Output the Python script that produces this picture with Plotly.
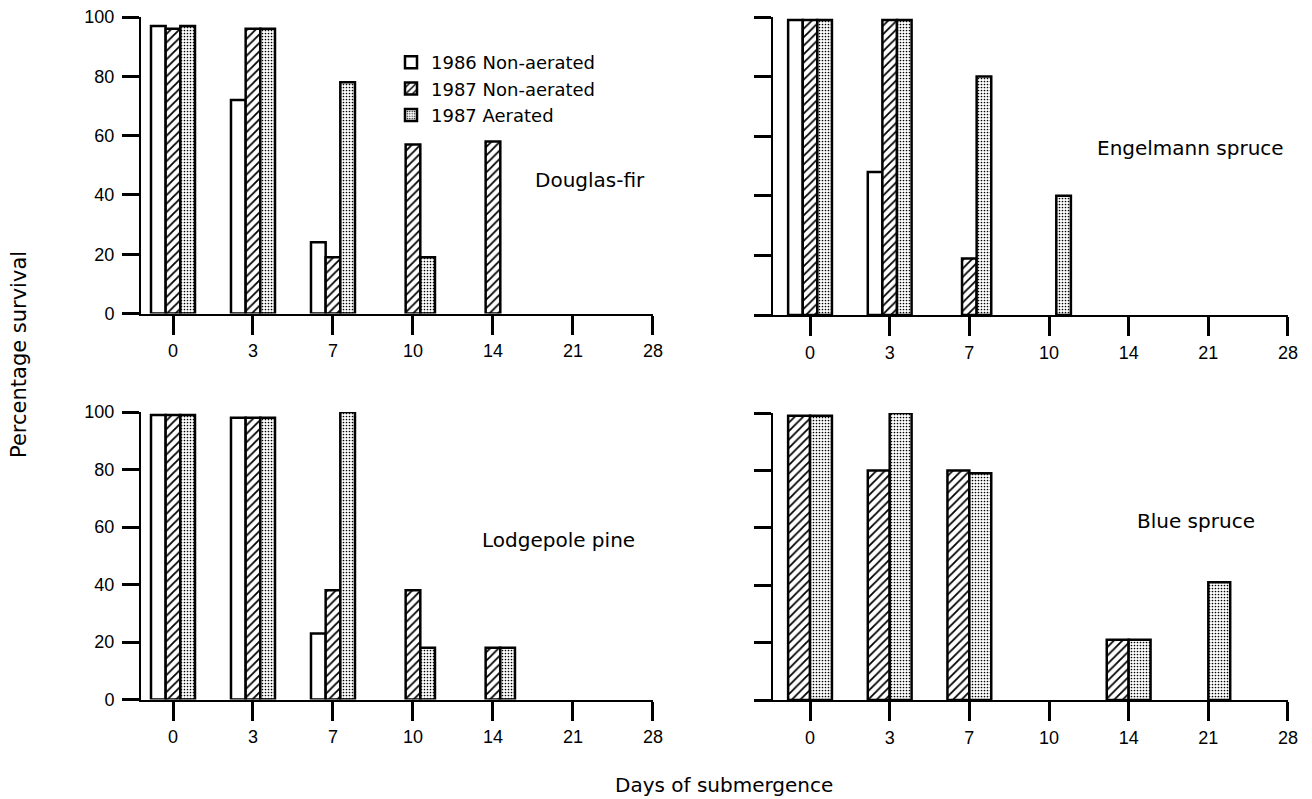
import plotly.graph_objects as go

# ---------------- data ----------------
days = ["0", "3", "7", "10", "14", "21", "28"]
series_names = ["1986 Non-aerated", "1987 Non-aerated", "1987 Aerated"]

douglas_1986 = [97, 72, 24, None, None, None, None]
douglas_1987_na = [96, 96, 19, 57, 58, None, None]
douglas_1987_a = [97, 96, 78, 19, None, None, None]

engelmann_1986 = [99, 48, None, None, None, None, None]
engelmann_1987_na = [99, 99, 19, None, None, None, None]
engelmann_1987_a = [99, 99, 80, 40, None, None, None]

lodgepole_1986 = [99, 98, 23, None, None, None, None]
lodgepole_1987_na = [99, 98, 38, 38, 18, None, None]
lodgepole_1987_a = [99, 98, 100, 18, 18, None, None]

blue_1987_na = [99, 80, 80, None, 21, None, None]
blue_1987_a = [99, 100, 79, None, 21, 41, None]

y_ticks = [0, 20, 40, 60, 80, 100]

# ---------------- geometry helpers ----------------
# The page body has a default 8px margin, so the figure is drawn at (8, 8)
# in the 1312x799 window.  Positions below are given in window pixels.
WIN_W, WIN_H = 1312, 799
OFF = 8
W, H = WIN_W - OFF, WIN_H - OFF


def px_x(x):
    return (x - OFF) / W


def px_y(y):
    return (WIN_H - y) / H


TICK_FONT = dict(family="Liberation Sans, Arial, sans-serif", size=18, color="black")
TEXT_FONT = "DejaVu Sans, sans-serif"

patterns = {
    "1986 Non-aerated": dict(shape=""),
    "1987 Non-aerated": dict(shape="/", fgcolor="black", bgcolor="white", size=6, solidity=0.3),
    "1987 Aerated": dict(shape=".", fgcolor="black", bgcolor="white", size=3, solidity=0.25),
}

panels = [
    dict(name="Douglas-fir", series={"1986 Non-aerated": douglas_1986,
                                     "1987 Non-aerated": douglas_1987_na,
                                     "1987 Aerated": douglas_1987_a},
         xpx=(141, 653), ypx=(17, 313.5), xr=-0.4, label_xy=(590, 180), legend=True),
    dict(name="Engelmann spruce", series={"1986 Non-aerated": engelmann_1986,
                                          "1987 Non-aerated": engelmann_1987_na,
                                          "1987 Aerated": engelmann_1987_a},
         xpx=(773, 1288), ypx=(17, 315), xr=-0.465, label_xy=(1190, 148), legend=False),
    dict(name="Lodgepole pine", series={"1986 Non-aerated": lodgepole_1986,
                                        "1987 Non-aerated": lodgepole_1987_na,
                                        "1987 Aerated": lodgepole_1987_a},
         xpx=(141, 653), ypx=(412, 699.5), xr=-0.4, label_xy=(558, 540), legend=False),
    dict(name="Blue spruce", series={"1987 Non-aerated": blue_1987_na,
                                     "1987 Aerated": blue_1987_a},
         xpx=(773, 1288), ypx=(413, 700), xr=-0.465, label_xy=(1196, 521), legend=False),
]

fig = go.Figure()
annotations = []
layout_axes = {}

for i, p in enumerate(panels, start=1):
    xa = "x" if i == 1 else f"x{i}"
    ya = "y" if i == 1 else f"y{i}"
    for sname, vals in p["series"].items():
        fig.add_trace(go.Bar(
            x=days, y=vals, name=sname, xaxis=xa, yaxis=ya,
            legendgroup=sname, showlegend=p["legend"],
            marker=dict(color="white", pattern=patterns[sname],
                        line=dict(color="black", width=2.5)),
        ))
    x0, x1 = p["xpx"]
    ytop, ybot = p["ypx"]
    layout_axes["xaxis" if i == 1 else f"xaxis{i}"] = dict(
        domain=[px_x(x0), px_x(x1)], anchor=ya, type="category",
        categoryorder="array", categoryarray=days,
        range=[p["xr"], 6.0005], showline=True, linecolor="black", linewidth=2,
        ticks="outside", ticklen=19, tickwidth=2.5, tickcolor="black",
        tickfont=TICK_FONT, ticklabelstandoff=1, showgrid=False, zeroline=False,
        ticklabeloverflow="allow", fixedrange=True,
    )
    layout_axes["yaxis" if i == 1 else f"yaxis{i}"] = dict(
        domain=[px_y(ybot), px_y(ytop)], anchor=xa,
        range=[0, 100], tickvals=y_ticks,
        ticktext=[str(v) for v in y_ticks] if i in (1, 3) else [""] * len(y_ticks),
        showline=True, linecolor="black", linewidth=2,
        ticks="outside", ticklen=17, tickwidth=2.5, tickcolor="black",
        tickfont=TICK_FONT, ticklabelstandoff=4, showgrid=False, zeroline=False,
        ticklabeloverflow="allow", fixedrange=True,
    )
    lx, ly = p["label_xy"]
    annotations.append(dict(text=p["name"], x=px_x(lx), y=px_y(ly), xref="paper", yref="paper",
                            xanchor="center", yanchor="middle", showarrow=False,
                            font=dict(family=TEXT_FONT, size=20, color="black")))

annotations.append(dict(text="Percentage survival", x=px_x(19), y=px_y(355), xref="paper", yref="paper",
                        xanchor="center", yanchor="middle", textangle=-90, showarrow=False,
                        font=dict(family=TEXT_FONT, size=21, color="black")))
annotations.append(dict(text="Days of submergence", x=px_x(724), y=0, xref="paper", yref="paper",
                        xanchor="center", yanchor="bottom", showarrow=False,
                        font=dict(family=TEXT_FONT, size=20, color="black")))

fig.update_layout(
    template="none",
    width=W, height=H,
    margin=dict(l=0, r=0, t=0, b=0),
    paper_bgcolor="white", plot_bgcolor="white",
    barmode="group", bargap=0.45, bargroupgap=0,
    annotations=annotations,
    legend=dict(x=px_x(391), y=px_y(44), xanchor="left", yanchor="top",
                bgcolor="rgba(0,0,0,0)", borderwidth=0, tracegroupgap=0,
                font=dict(family=TEXT_FONT, size=18, color="black")),
    **layout_axes,
)

fig.write_html("out.html")
